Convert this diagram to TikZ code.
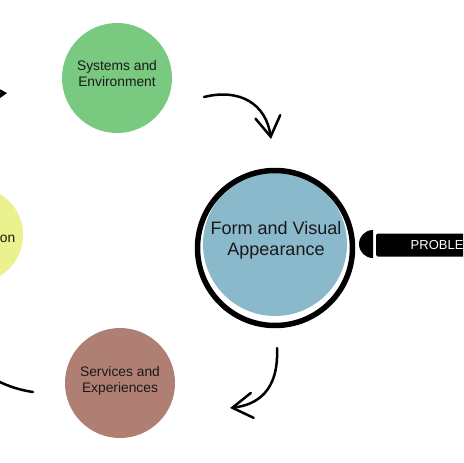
\documentclass[tikz,border=0pt]{standalone}
\usepackage{fontspec}
\setmainfont{Liberation Sans}
\usetikzlibrary{arrows.meta}
\definecolor{sysgreen}{HTML}{7AC980}
\definecolor{intyellow}{HTML}{EBF18C}
\definecolor{formblue}{HTML}{8BB9CC}
\definecolor{servbrown}{HTML}{B07F73}
\tikzset{
  disc/.style={circle, inner sep=0pt, minimum size=110pt},
  txt/.style={align=center, inner sep=0pt, font=\fontsize{13.8}{16}\selectfont, text=black!90},
  bigtxt/.style={align=center, inner sep=0pt, font=\fontsize{18}{21}\selectfont, text=black!90},
  flow/.style={line width=2.5pt, line cap=round, -{Straight Barb[length=20pt,width=25pt,line cap=round]}},
  plain/.style={line width=2.5pt, line cap=round}
}
\begin{document}
\begin{tikzpicture}[x=1pt,y=-1pt]
\useasboundingbox (0,0) rectangle (463,463);
\clip (0,0) rectangle (463,463);
\fill[white] (0,0) rectangle (463,463);

% circles
\node[disc, fill=sysgreen] (sys) at (117,78) {};
\node[txt] (systxt) at (117,73.5) {Systems and\\Environment};

\node[disc, fill=servbrown] (serv) at (120,383) {};
\node[txt] (servtxt) at (120,381) {Services and\\Experiences};

\node[circle, inner sep=0pt, minimum size=96pt, fill=intyellow] (inter) at (-25,235) {};
\node[txt, anchor=east] (intertxt) at (15.5,239) {on};

% magnifier
\node[circle, inner sep=0pt, minimum size=144pt, fill=formblue] (formbg) at (275,244) {};
\node[circle, inner sep=0pt, minimum size=155pt, draw=black, line width=5.5pt] (ring) at (275,248) {};
\node[bigtxt] (form) at (276,240) {Form and Visual\\Appearance};

\fill (373,230) arc[start angle=270, end angle=90, radius=14] -- cycle;
\fill[rounded corners=1.5pt] (376,233.5) rectangle (475,256.5);
\node[anchor=west, inner sep=0pt, text=white, font=\fontsize{13}{15}\selectfont] (problem) at (410.5,245) {PROBLEM};

% connectors
\coordinate (a1s) at (204,97);
\coordinate (a1e) at (271,139);
\draw[flow] (a1s) .. controls (240,88) and (266,104) .. (a1e);

\coordinate (a2s) at (277,348);
\coordinate (a2e) at (230,408);
\draw[flow] (a2s) .. controls (279,392) and (256,405) .. (a2e);

\coordinate (a3s) at (33,392);
\coordinate (a3e) at (-45,340);
\draw[flow] (a3s) .. controls (12,389) and (-22,378) .. (a3e);

\coordinate (a4s) at (-35,180);
\coordinate (a4e) at (7,93);
\draw[flow] (a4s) .. controls (-40,120) and (-22,95) .. (a4e);
\end{tikzpicture}
\end{document}
